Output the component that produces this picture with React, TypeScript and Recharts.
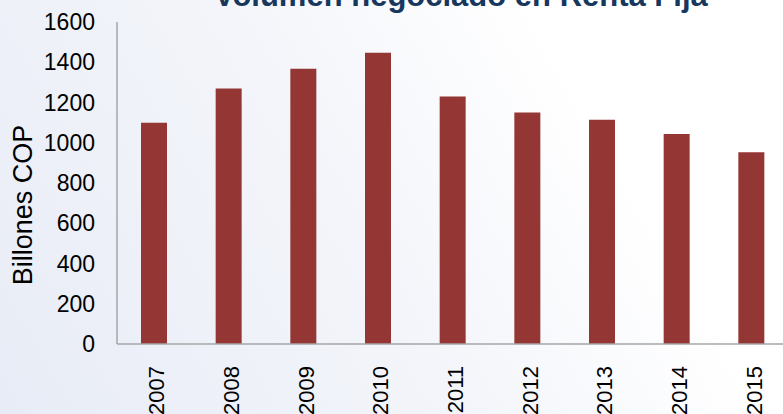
import React from 'react';
import { BarChart, Bar, XAxis, YAxis } from 'recharts';

// Volumen negociado en Renta Fija (billones COP)
const years = ['2007', '2008', '2009', '2010', '2011', '2012', '2013', '2014', '2015'];
const volumes = [1100, 1270, 1368, 1447, 1230, 1150, 1114, 1043, 953];
const yTicks = [0, 200, 400, 600, 800, 1000, 1200, 1400, 1600];

const data = years.map((year, i) => ({ year, volume: volumes[i] }));

const FONT = 'Arial, "Liberation Sans", sans-serif';

function YearTick(props: any) {
  const { x, y, payload } = props;
  return (
    <text
      transform={`translate(${x + 2}, ${y + 14}) rotate(-90)`}
      textAnchor="end"
      dy="0.36em"
      fontSize={22}
      fontFamily={FONT}
      fill="#000"
    >
      {payload.value}
    </text>
  );
}

export default function App() {
  return (
    <div
      style={{
        position: 'fixed',
        left: 0,
        top: 0,
        width: 783,
        height: 414,
        overflow: 'hidden',
        background: 'linear-gradient(60deg, #e8ecf6 0%, #f3f5fa 45%, #ffffff 75%)',
        fontFamily: FONT,
      }}
    >
      <div
        style={{
          position: 'absolute',
          left: 214,
          top: -20,
          fontSize: 31,
          lineHeight: '31px',
          fontWeight: 'bold',
          color: '#17375e',
          whiteSpace: 'nowrap',
        }}
      >
        Volumen negociado en Renta Fija
      </div>
      <div
        style={{
          position: 'absolute',
          left: 23,
          top: 205,
          transform: 'translate(-50%, -50%) rotate(-90deg)',
          fontSize: 27,
          color: '#000',
          whiteSpace: 'nowrap',
        }}
      >
        Billones COP
      </div>
      <BarChart
        width={789}
        height={414}
        data={data}
        margin={{ top: 22, right: 0, bottom: 0, left: 0 }}
        barSize={26}
      >
        <XAxis
          dataKey="year"
          height={70}
          interval={0}
          tickLine={false}
          axisLine={{ stroke: '#a6a6a6', strokeWidth: 1.5 }}
          tick={<YearTick />}
        />
        <YAxis
          width={117}
          domain={[0, 1600]}
          ticks={yTicks}
          interval={0}
          tickLine={false}
          tickSize={0}
          tickMargin={22}
          axisLine={{ stroke: '#a6a6a6', strokeWidth: 1.5 }}
          tick={{ fontSize: 23, fill: '#000', fontFamily: FONT }}
        />
        <Bar dataKey="volume" fill="#943634" isAnimationActive={false} />
      </BarChart>
    </div>
  );
}
